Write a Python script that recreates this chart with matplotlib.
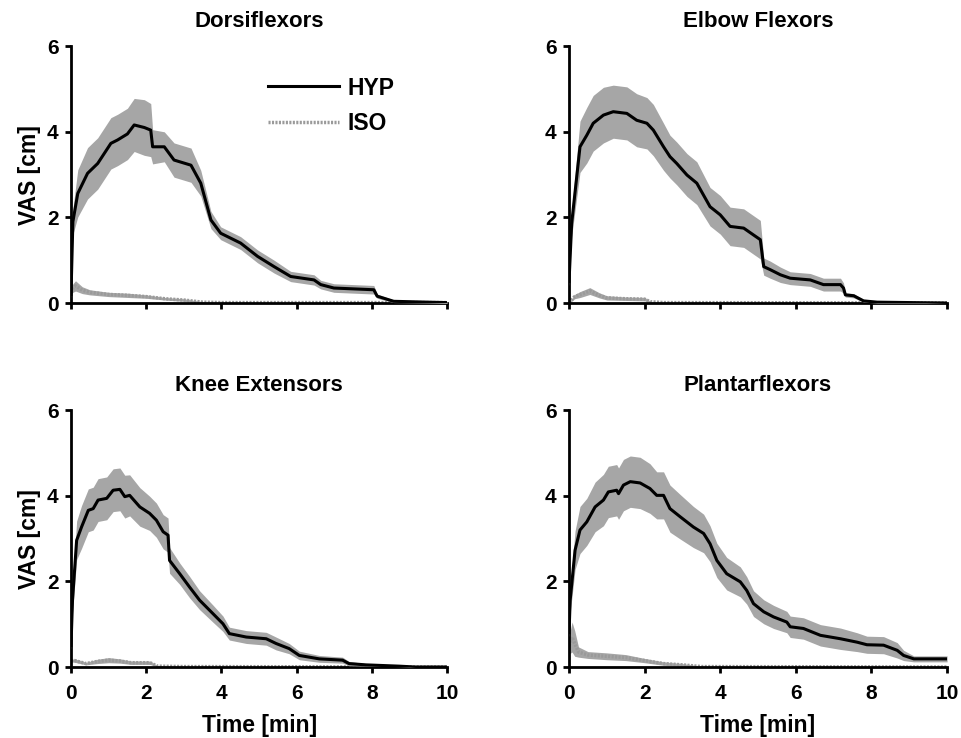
import numpy as np
import matplotlib
matplotlib.use('Agg')
import matplotlib.pyplot as plt

plt.rcParams['font.family'] = ['Liberation Sans', 'DejaVu Sans']
plt.rcParams['font.weight'] = 'bold'

# Dorsiflexors
t_dorsi = [0, 0.05, 0.18, 0.44, 0.71, 1.06, 1.24, 1.5, 1.68, 1.95, 2.12, 2.17, 2.48, 2.74, 3.19, 3.45,
           3.72, 3.98, 4.51, 4.96, 5.40, 5.84, 6.46, 6.64, 6.99, 7.52, 8.05, 8.14, 8.58, 9.5, 10]
hyp_dorsi = [0.2, 1.9, 2.56, 3.03, 3.26, 3.73, 3.81, 3.95, 4.16, 4.10, 4.04, 3.65, 3.65, 3.34, 3.22, 2.80,
             1.94, 1.63, 1.40, 1.09, 0.85, 0.62, 0.54, 0.43, 0.35, 0.33, 0.31, 0.16, 0.04, 0.02, 0.01]
sem_dorsi = [0.1, 0.3, 0.55, 0.6, 0.6, 0.6, 0.6, 0.6, 0.62, 0.65, 0.62, 0.4, 0.35, 0.4, 0.4, 0.3,
             0.2, 0.15, 0.15, 0.15, 0.15, 0.12, 0.12, 0.1, 0.1, 0.1, 0.1, 0.05, 0.03, 0.02, 0.02]
t_iso_dorsi = [0, 0.05, 0.12, 0.3, 0.5, 1.0, 1.5, 2.0, 2.5, 3.0, 3.5, 4.0, 10]
iso_dorsi = [0.25, 0.35, 0.4, 0.3, 0.25, 0.2, 0.18, 0.15, 0.1, 0.07, 0.02, 0.01, 0.01]
isosem_dorsi = [0.05, 0.1, 0.12, 0.08, 0.06, 0.05, 0.05, 0.04, 0.03, 0.03, 0.01, 0.0, 0.0]

# Elbow Flexors
t_elbow = [0, 0.07, 0.29, 0.47, 0.64, 0.91, 1.17, 1.53, 1.79, 2.06, 2.23, 2.50, 2.67, 2.85, 3.12, 3.38,
           3.73, 4.00, 4.26, 4.62, 4.88, 5.06, 5.15, 5.32, 5.59, 5.85, 6.38, 6.73, 7.18, 7.26, 7.31,
           7.53, 7.79, 8.15, 10]
hyp_elbow = [0.5, 1.86, 3.65, 3.92, 4.20, 4.39, 4.47, 4.43, 4.27, 4.20, 4.04, 3.65, 3.42, 3.26, 2.99, 2.80,
             2.25, 2.06, 1.79, 1.75, 1.59, 1.48, 0.85, 0.78, 0.66, 0.58, 0.54, 0.43, 0.43, 0.35, 0.19,
             0.17, 0.05, 0.02, 0.0]
sem_elbow = [0.1, 0.3, 0.6, 0.65, 0.65, 0.65, 0.62, 0.62, 0.62, 0.6, 0.6, 0.55, 0.5, 0.5, 0.5, 0.5,
             0.45, 0.45, 0.45, 0.45, 0.45, 0.45, 0.2, 0.2, 0.18, 0.15, 0.15, 0.15, 0.15, 0.12, 0.05,
             0.05, 0.03, 0.02, 0.0]
t_iso_elbow = [0, 0.15, 0.3, 0.55, 0.8, 1.0, 1.5, 2.0, 2.15, 2.5, 10]
iso_elbow = [0.0, 0.15, 0.2, 0.28, 0.18, 0.12, 0.1, 0.09, 0.03, 0.01, 0.0]
isosem_elbow = [0.0, 0.05, 0.07, 0.08, 0.06, 0.05, 0.04, 0.04, 0.01, 0.0, 0.0]

# Knee Extensors
t_knee = [0, 0.04, 0.15, 0.28, 0.46, 0.59, 0.72, 0.95, 1.12, 1.30, 1.43, 1.56, 1.83, 2.09, 2.27, 2.45,
          2.58, 2.62, 2.89, 3.15, 3.42, 3.77, 4.04, 4.21, 4.66, 5.19, 5.45, 5.80, 6.07, 6.60, 7.22,
          7.39, 7.84, 8.72, 9.16, 10]
hyp_knee = [0.5, 1.56, 2.96, 3.27, 3.66, 3.70, 3.90, 3.94, 4.13, 4.15, 3.98, 4.01, 3.74, 3.59, 3.43, 3.16,
            3.08, 2.49, 2.18, 1.87, 1.56, 1.25, 1.01, 0.78, 0.70, 0.66, 0.55, 0.43, 0.27, 0.19, 0.16,
            0.08, 0.05, 0.02, 0.0, 0.0]
sem_knee = [0.1, 0.3, 0.45, 0.5, 0.5, 0.5, 0.5, 0.5, 0.5, 0.5, 0.5, 0.48, 0.45, 0.4, 0.4, 0.4,
            0.4, 0.3, 0.25, 0.25, 0.22, 0.2, 0.18, 0.15, 0.15, 0.15, 0.15, 0.12, 0.1, 0.08, 0.07,
            0.05, 0.03, 0.01, 0.0, 0.0]
t_iso_knee = [0, 0.1, 0.4, 0.7, 1.0, 1.3, 1.6, 2.1, 2.3, 3.0, 10]
iso_knee = [0.15, 0.15, 0.08, 0.13, 0.16, 0.14, 0.1, 0.1, 0.02, 0.01, 0.0]
isosem_knee = [0.03, 0.04, 0.03, 0.05, 0.06, 0.05, 0.04, 0.04, 0.01, 0.0, 0.0]

# Plantarflexors
t_plantar = [0, 0.03, 0.16, 0.29, 0.47, 0.69, 0.91, 1.04, 1.26, 1.31, 1.44, 1.62, 1.88, 2.14, 2.32, 2.50,
             2.67, 2.94, 3.29, 3.56, 3.73, 3.91, 4.17, 4.53, 4.70, 4.88, 5.15, 5.41, 5.76, 5.85, 6.2,
             6.65, 7.18, 7.62, 7.88, 8.32, 8.68, 8.85, 9.12, 10]
hyp_plantar = [0.8, 1.56, 2.73, 3.20, 3.39, 3.74, 3.90, 4.09, 4.13, 4.05, 4.25, 4.33, 4.30, 4.17, 4.01, 4.01,
               3.70, 3.51, 3.27, 3.12, 2.88, 2.49, 2.18, 1.99, 1.79, 1.48, 1.29, 1.17, 1.05, 0.94, 0.90,
               0.74, 0.66, 0.58, 0.52, 0.51, 0.39, 0.27, 0.19, 0.19]
sem_plantar = [0.1, 0.3, 0.45, 0.55, 0.55, 0.58, 0.6, 0.6, 0.6, 0.6, 0.6, 0.6, 0.6, 0.58, 0.55, 0.55,
               0.55, 0.52, 0.48, 0.45, 0.42, 0.4, 0.38, 0.35, 0.32, 0.3, 0.28, 0.27, 0.25, 0.25, 0.25,
               0.25, 0.25, 0.22, 0.2, 0.2, 0.18, 0.12, 0.07, 0.07]
t_iso_plantar = [0, 0.08, 0.15, 0.25, 0.5, 1.0, 1.5, 2.0, 2.5, 3.0, 3.5, 10]
iso_plantar = [0.5, 0.7, 0.55, 0.35, 0.28, 0.25, 0.22, 0.15, 0.08, 0.05, 0.01, 0.0]
isosem_plantar = [0.2, 0.35, 0.3, 0.12, 0.08, 0.08, 0.07, 0.05, 0.04, 0.03, 0.01, 0.0]

titles = ['Dorsiflexors', 'Elbow Flexors', 'Knee Extensors', 'Plantarflexors']
panels = [
    (t_dorsi, hyp_dorsi, sem_dorsi, t_iso_dorsi, iso_dorsi, isosem_dorsi),
    (t_elbow, hyp_elbow, sem_elbow, t_iso_elbow, iso_elbow, isosem_elbow),
    (t_knee, hyp_knee, sem_knee, t_iso_knee, iso_knee, isosem_knee),
    (t_plantar, hyp_plantar, sem_plantar, t_iso_plantar, iso_plantar, isosem_plantar),
]

band_color = '#a6a6a6'

fig = plt.figure(figsize=(9.62, 7.38), dpi=100)
positions = [
    [0.0738, 0.5894, 0.391, 0.348],
    [0.5915, 0.5894, 0.393, 0.348],
    [0.0738, 0.0962, 0.391, 0.348],
    [0.5915, 0.0962, 0.393, 0.348],
]

for i in range(4):
    ax = fig.add_axes(positions[i])
    t, hyp, sem, ti, iso, isem = [np.array(a) for a in panels[i]]

    ax.fill_between(ti, iso - isem, iso + isem, color=band_color, lw=0, zorder=1)
    ax.plot(ti, iso, color='#9a9a9a', lw=2.5, ls=(0, (0.6, 0.4)), zorder=2, label='ISO')
    ax.fill_between(t, hyp - sem, hyp + sem, color=band_color, lw=0, zorder=3)
    ax.plot(t, hyp, color='black', lw=2.2, zorder=4, label='HYP')

    ax.set_xlim(0, 10)
    ax.set_ylim(0, 6)
    ax.set_xticks([0, 2, 4, 6, 8, 10])
    ax.set_yticks([0, 2, 4, 6])
    ax.spines['top'].set_visible(False)
    ax.spines['right'].set_visible(False)
    ax.spines['left'].set_linewidth(2)
    ax.spines['bottom'].set_linewidth(2)
    ax.tick_params(direction='out', length=4, width=2, labelsize=15)
    ax.tick_params(axis='x', pad=8)
    ax.tick_params(axis='y', pad=5)
    for lab in ax.get_xticklabels() + ax.get_yticklabels():
        lab.set_fontweight('bold')
    ax.set_title(titles[i], fontsize=16, fontweight='bold', pad=14)

    if i % 2 == 0:
        ax.set_ylabel('VAS [cm]', fontsize=16.5, fontweight='bold', labelpad=4)
    if i >= 2:
        ax.set_xlabel('Time [min]', fontsize=16.5, fontweight='bold', labelpad=8)
    else:
        ax.set_xticklabels([])

    if i == 0:
        handles, labels = ax.get_legend_handles_labels()
        ax.legend(handles[::-1], labels[::-1], loc='upper left', bbox_to_anchor=(0.524, 0.882),
                  frameon=False, handlelength=3.1, labelspacing=0.55, borderpad=0,
                  borderaxespad=0, handletextpad=0.35, prop={'weight': 'bold', 'size': 16.5})

fig.savefig('out.png', dpi=100)
